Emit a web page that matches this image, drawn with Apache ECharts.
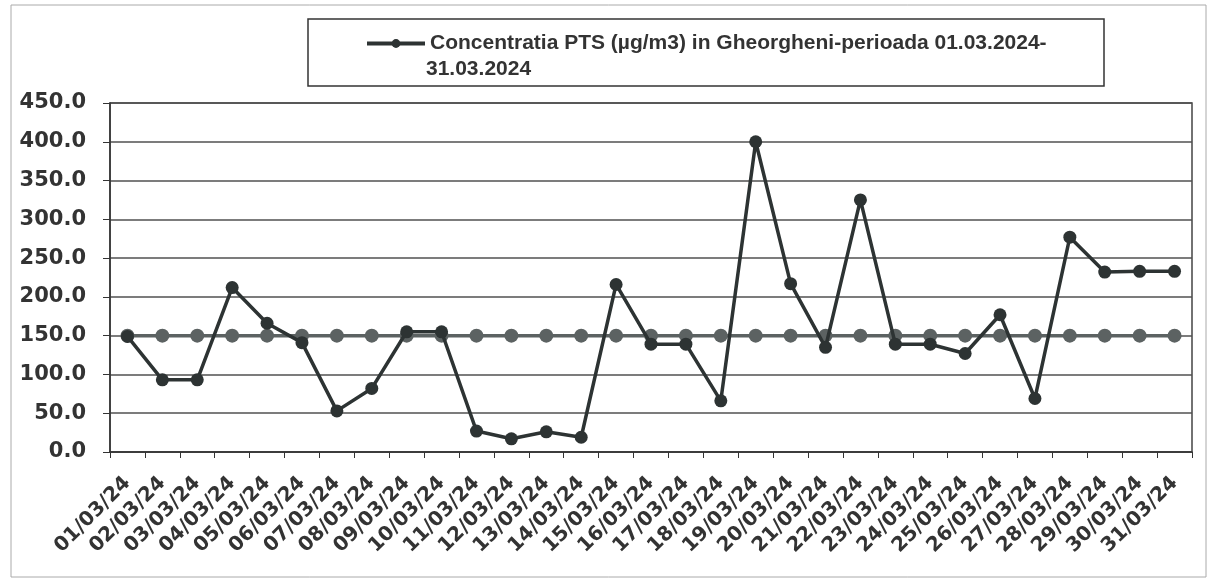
<!DOCTYPE html>
<html><head><meta charset="utf-8">
<script src="https://cdn.jsdelivr.net/npm/echarts@6/dist/echarts.min.js"></script>
<style>html,body{margin:0;padding:0;background:#fff}#c{width:1216px;height:580px}</style>
</head><body><div id="c"></div>
<script>
const categories = ["01/03/24","02/03/24","03/03/24","04/03/24","05/03/24","06/03/24","07/03/24","08/03/24","09/03/24","10/03/24","11/03/24","12/03/24","13/03/24","14/03/24","15/03/24","16/03/24","17/03/24","18/03/24","19/03/24","20/03/24","21/03/24","22/03/24","23/03/24","24/03/24","25/03/24","26/03/24","27/03/24","28/03/24","29/03/24","30/03/24","31/03/24"];
const ptsValues = [149,93,93,212,166,141,53,82,155,155,27,17,26,19,216,139,139,66,400,217,135,325,139,139,127,177,69,277,232,233,233];
const limitValues = [150,150,150,150,150,150,150,150,150,150,150,150,150,150,150,150,150,150,150,150,150,150,150,150,150,150,150,150,150,150,150];
const seriesName = "Concentratia PTS (µg/m3) in Gheorgheni-perioada 01.03.2024-";
const seriesNameLine2 = "31.03.2024";
const yTicks = {min:0, max:450, interval:50};

const chart = echarts.init(document.getElementById('c'), null, {renderer:'canvas'});
const legendFont = '"Liberation Sans", Arial, sans-serif';
const axisFont = '"DejaVu Sans", Verdana, sans-serif';
chart.setOption({
  animation:false,
  backgroundColor:'#fff',
  graphic:[
    {type:'rect', shape:{x:11,y:5,width:1195,height:572}, style:{fill:'none', stroke:'#aaa', lineWidth:1}},
    {type:'rect', shape:{x:308,y:19,width:796,height:67}, style:{fill:'none', stroke:'#333', lineWidth:1.5}},
    {type:'text', left:426, top:59, style:{text:seriesNameLine2, font:'bold 21px ' + legendFont, fill:'#333'}}
  ],
  legend:{
    left:365, top:33, padding:0, itemWidth:58, itemHeight:11, itemGap:0,
    data:[seriesName],
    lineStyle:{width:4},
    textStyle:{fontFamily:legendFont, fontWeight:'bold', fontSize:21, color:'#333'}
  },
  grid:{left:110, right:24, top:103, bottom:128, show:true, borderColor:'#444', borderWidth:1.5},
  xAxis:{
    type:'category', data:categories, boundaryGap:true,
    axisLine:{lineStyle:{color:'#333', width:1.5}},
    axisTick:{show:true, length:6, lineStyle:{color:'#333'}},
    axisLabel:{rotate:45, interval:0, fontFamily:axisFont, fontWeight:'bold', fontSize:20, color:'#333', margin:28}
  },
  yAxis:{
    type:'value', min:yTicks.min, max:yTicks.max, interval:yTicks.interval,
    axisLine:{show:true, lineStyle:{color:'#333', width:1.5}},
    axisTick:{show:true, length:7, lineStyle:{color:'#333'}},
    splitLine:{lineStyle:{color:'#505050', width:1.5}},
    axisLabel:{fontFamily:axisFont, fontWeight:'bold', fontSize:21, color:'#333', margin:24, formatter: v => v.toFixed(1)}
  },
  series:[
    {name:'limit', type:'line', data:limitValues, symbol:'circle', symbolSize:14,
     lineStyle:{color:'#5c6262', width:3.5}, itemStyle:{color:'#5c6262'}, z:2},
    {name:seriesName, type:'line', data:ptsValues, symbol:'circle', symbolSize:13,
     lineStyle:{color:'#2d3333', width:3.5}, itemStyle:{color:'#2d3333'}, z:3}
  ]
});
</script></body></html>
